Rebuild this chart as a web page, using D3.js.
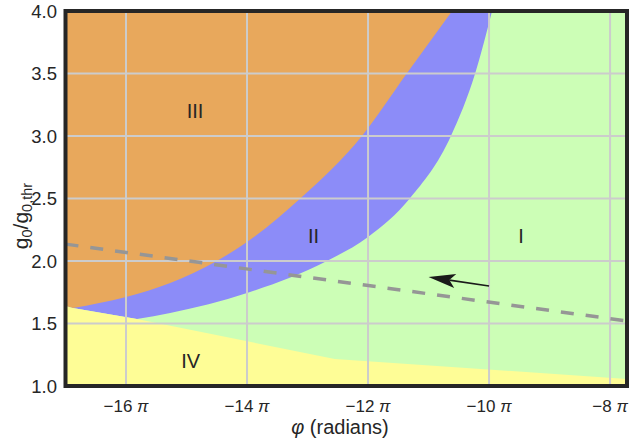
<!DOCTYPE html>
<html>
<head>
<meta charset="utf-8">
<script src="https://cdn.jsdelivr.net/npm/d3@7"></script>
<style>
  html, body { margin: 0; padding: 0; background: #fff; }
  svg { display: block; font-family: "Liberation Sans", Arial, Helvetica, sans-serif; }
</style>
</head>
<body>
<svg id="chart" width="631" height="438"></svg>
<script>
// Phase boundaries of the four regimes, phase in units of pi
const upperPhi = [-16.88, -16.0, -15.27, -14.50, -14.0, -13.12, -12.10, -11.36, -10.61];
const upperG   = [1.624, 1.712, 1.824, 2.0, 2.152, 2.5, 3.0, 3.5, 4.0];
const lowerPhi = [-15.82, -15.27, -14.0, -12.68, -12.0, -11.31, -10.63, -10.23, -9.95];
const lowerG   = [1.536, 1.584, 1.744, 2.0, 2.192, 2.5, 3.0, 3.5, 4.0];
const floorPhi = [-17.0, -16.88, -15.82, -12.55, -7.72];
const floorG   = [1.64, 1.624, 1.536, 1.216, 1.056];

// Operating trajectory and direction of travel
const dashPhi  = [-17.0, -7.72];
const dashG    = [2.135, 1.52];
const arrowPhi = [-10.0, -11.0];
const arrowG   = [1.80, 1.872];

// Region names and where they sit
const regionNames = ["I", "II", "III", "IV"];
const regionPhi   = [-9.47, -12.90, -14.86, -14.93];
const regionG     = [2.20, 2.20, 3.204, 1.20];

const phiTicks = [-16, -14, -12, -10, -8];
const gTicks   = [1.0, 1.5, 2.0, 2.5, 3.0, 3.5, 4.0];

const colors = { I: "#ccfeb6", II: "#8c8cf8", III: "#e8a85c", IV: "#fefd96" };

const svg = d3.select("#chart");
const m = { left: 65.5, right: 4, top: 11, bottom: 52 };
const W = 631, H = 438;

const x = d3.scaleLinear().domain([-17, -7.72]).range([m.left, W - m.right]);
const y = d3.scaleLinear().domain([1, 4]).range([H - m.bottom, m.top]);

const pts = (a, b) => a.map((v, i) => [x(v), y(b[i])]);
const curve = d3.line().curve(d3.curveMonotoneX);
const straight = d3.line();

svg.append("defs").append("clipPath").attr("id", "plot")
  .append("rect").attr("x", x(-17)).attr("y", y(4))
  .attr("width", x(-7.72) - x(-17)).attr("height", y(1) - y(4));

const g = svg.append("g").attr("clip-path", "url(#plot)");

// Region I fills the whole panel
g.append("rect").attr("x", x(-17)).attr("y", y(4))
  .attr("width", x(-7.72) - x(-17)).attr("height", y(1) - y(4))
  .attr("fill", colors.I);

// Region II: everything above the lower boundary
const lowerPts = pts(lowerPhi, lowerG);
g.append("path")
  .attr("d",
    straight([[x(-17), y(4)], [x(-17), y(floorG[0])], [x(floorPhi[1]), y(floorG[1])]]) +
    "L" + curve(lowerPts).slice(1) + "Z")
  .attr("fill", colors.II);

// Region III: above the upper boundary
const upperPts = pts(upperPhi, upperG);
g.append("path")
  .attr("d",
    straight([[x(-17), y(4)], [x(-17), y(floorG[0])]]) +
    "L" + curve(upperPts).slice(1) + "Z")
  .attr("fill", colors.III);

// Region IV: below the floor line
g.append("path")
  .attr("d", straight([[x(-17), y(1)], ...pts(floorPhi, floorG), [x(-7.72), y(1)]]) + "Z")
  .attr("fill", colors.IV);

// Grid
g.selectAll("line.gx").data(phiTicks).join("line")
  .attr("x1", d => x(d)).attr("x2", d => x(d))
  .attr("y1", y(1)).attr("y2", y(4))
  .attr("stroke", "#cccccc").attr("stroke-width", 2);
g.selectAll("line.gy").data(gTicks).join("line")
  .attr("y1", d => y(d)).attr("y2", d => y(d))
  .attr("x1", x(-17)).attr("x2", x(-7.72))
  .attr("stroke", "#cccccc").attr("stroke-width", 2);

// Trajectory
g.append("path")
  .attr("d", straight(pts(dashPhi, dashG)))
  .attr("fill", "none").attr("stroke", "#969696")
  .attr("stroke-width", 3.5).attr("stroke-dasharray", "13,12");

// Arrow
const [ta, tb] = pts(arrowPhi, arrowG);
const ang = Math.atan2(tb[1] - ta[1], tb[0] - ta[0]);
const ux = Math.cos(ang), uy = Math.sin(ang);
const nx = -uy, ny = ux;
const headLen = 27, headHalf = 7, notch = 21;
const back = [tb[0] - ux * headLen, tb[1] - uy * headLen];
const mid = [tb[0] - ux * notch, tb[1] - uy * notch];
g.append("line")
  .attr("x1", ta[0]).attr("y1", ta[1]).attr("x2", mid[0]).attr("y2", mid[1])
  .attr("stroke", "#1a1a1a").attr("stroke-width", 1.6);
g.append("path")
  .attr("d", straight([tb, [back[0] + nx * headHalf, back[1] + ny * headHalf], mid,
                       [back[0] - nx * headHalf, back[1] - ny * headHalf]]) + "Z")
  .attr("fill", "#1a1a1a");

// Region labels
g.selectAll("text.region").data(regionNames).join("text")
  .attr("x", (d, i) => x(regionPhi[i])).attr("y", (d, i) => y(regionG[i]))
  .attr("text-anchor", "middle").attr("dominant-baseline", "central")
  .attr("font-size", 20).attr("fill", "#262626")
  .text(d => d);

// Frame
svg.append("rect").attr("x", x(-17)).attr("y", y(4))
  .attr("width", x(-7.72) - x(-17)).attr("height", y(1) - y(4))
  .attr("fill", "none").attr("stroke", "#262626").attr("stroke-width", 4);

// Y tick labels
svg.selectAll("text.ytick").data(gTicks).join("text")
  .attr("x", 57).attr("y", d => y(d))
  .attr("text-anchor", "end").attr("dominant-baseline", "central")
  .attr("font-size", 18.5).attr("fill", "#262626")
  .text(d => d.toFixed(1));

// X tick labels
const xt = svg.selectAll("text.xtick").data(phiTicks).join("text")
  .attr("x", d => x(d)).attr("y", 412)
  .attr("text-anchor", "middle")
  .attr("font-size", 17).attr("fill", "#262626");
xt.append("tspan").text(d => "\u2212" + Math.abs(d) + " ");
xt.append("tspan").attr("font-style", "italic").text("\u03c0");

// Axis titles
const xl = svg.append("text").attr("x", 340).attr("y", 433.5)
  .attr("text-anchor", "middle").attr("font-size", 20).attr("fill", "#262626");
xl.append("tspan").attr("font-style", "italic").text("\u03c6");
xl.append("tspan").text(" (radians)");

const yl = svg.append("text")
  .attr("transform", "translate(28,216) rotate(-90)")
  .attr("text-anchor", "middle").attr("font-size", 21).attr("fill", "#262626");
yl.append("tspan").text("g");
yl.append("tspan").attr("font-size", 14.5).attr("dy", 4).text("0");
yl.append("tspan").attr("dy", -4).text("/g");
yl.append("tspan").attr("font-size", 14.5).attr("dy", 4).text("0,thr");
</script>
</body>
</html>
